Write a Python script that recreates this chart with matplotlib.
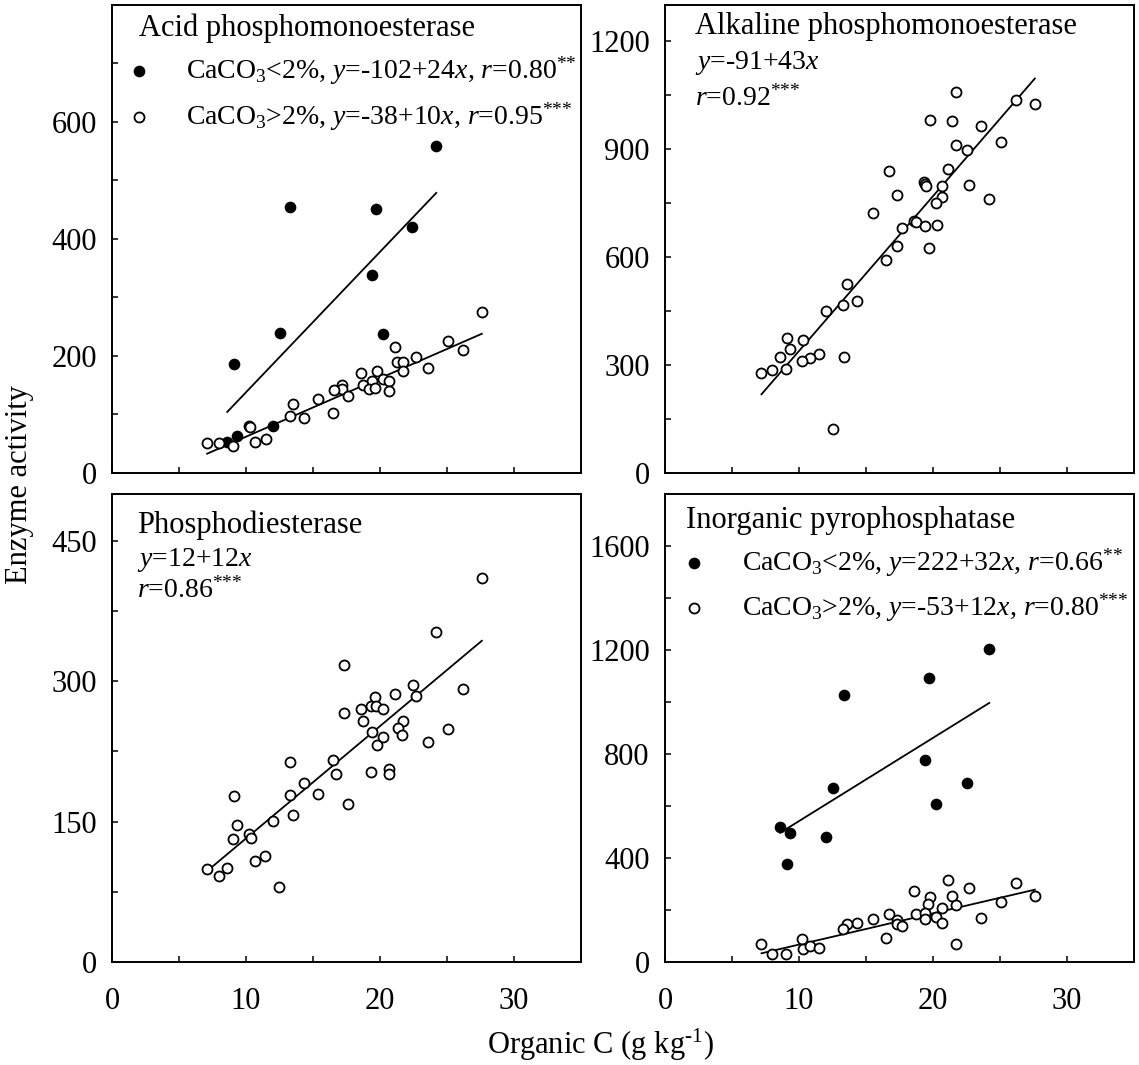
import matplotlib
matplotlib.use('Agg')
import matplotlib.pyplot as plt
import numpy as np
from matplotlib.ticker import FixedLocator

plt.rcParams['font.family'] = ['Liberation Serif', 'DejaVu Serif']
plt.rcParams['mathtext.fontset'] = 'custom'
plt.rcParams['mathtext.rm'] = 'Liberation Serif'
plt.rcParams['mathtext.it'] = 'Liberation Serif:italic'

# Acid phosphomonoesterase (filled: CaCO3<2%, open: CaCO3>2%)
acid_lo_x = [24.2, 13.3, 19.7, 22.4, 19.4, 12.5, 20.2, 9.1, 9.3, 12.0, 8.6]
acid_lo_y = [559, 454, 451, 421, 338, 240, 237, 187, 63, 80, 53]
acid_hi_x = [27.6, 25.1, 26.2, 21.1, 22.7, 21.3, 21.7, 23.6, 21.7, 18.6, 19.8, 19.4,
             20.2, 20.7, 18.7, 19.2, 19.6, 20.7, 17.2, 17.2, 16.6, 17.6, 15.4, 16.5,
             13.5, 13.3, 14.3, 10.2, 10.3, 11.5, 10.7, 9.05, 8.0, 7.1]
acid_hi_y = [276, 225, 210, 215, 199, 190, 189, 180, 174, 171, 174, 158,
             160, 158, 150, 143, 145, 141, 150, 143, 142, 131, 126, 102,
             118, 97, 94, 81, 79, 58, 53, 47, 51, 51]
acid_lo_fit = (-102, 24)
acid_hi_fit = (-38, 10)

# Alkaline phosphomonoesterase
alk_x = [21.75, 26.2, 27.6, 19.8, 21.4, 23.6, 25.1, 21.7, 22.5, 21.1, 16.7, 19.3,
         19.4, 19.5, 20.7, 22.7, 17.3, 20.7, 24.2, 20.2, 15.5, 18.6, 18.7, 19.4,
         20.3, 17.7, 17.3, 19.7, 16.5, 13.55, 14.3, 13.3, 12.0, 9.1, 10.3, 9.3,
         8.6, 11.5, 10.8, 10.2, 13.35, 9.0, 8.0, 7.2, 12.5]
alk_y = [1058, 1035, 1026, 980, 978, 963, 919, 912, 896, 844, 838, 808,
         804, 797, 798, 799, 771, 768, 760, 750, 722, 700, 696, 686,
         688, 680, 630, 625, 591, 524, 479, 466, 450, 374, 369, 344,
         323, 330, 320, 312, 322, 288, 285, 279, 121]
alk_fit = (-91, 43)

# Phosphodiesterase
pde_x = [27.6, 24.2, 17.3, 22.45, 26.2, 21.1, 19.6, 22.7, 19.35, 19.7, 20.2, 18.55,
         17.3, 18.75, 21.7, 21.35, 19.4, 25.1, 21.65, 20.2, 19.8, 23.6, 13.3, 16.5,
         16.7, 19.35, 20.65, 20.7, 14.3, 15.4, 13.3, 9.1, 17.6, 13.5, 12.0, 9.3,
         10.2, 10.35, 9.05, 11.45, 10.7, 7.1, 8.55, 7.95, 12.45]
pde_y = [410, 353, 317, 296, 292, 286, 283, 284, 274, 273, 270, 270,
         266, 258, 258, 250, 246, 249, 242, 240, 232, 235, 214, 216,
         201, 203, 206, 201, 191, 180, 178, 177, 169, 157, 151, 146,
         137, 132, 131, 113, 108, 99, 100, 92, 80]
pde_fit = (12, 12)

# Inorganic pyrophosphatase
ipp_lo_x = [24.2, 19.7, 13.35, 19.4, 22.5, 12.5, 20.2, 8.6, 9.3, 12.0, 9.1]
ipp_lo_y = [1203, 1094, 1027, 776, 687, 669, 606, 518, 497, 479, 376]
ipp_hi_x = [21.1, 26.2, 22.7, 18.6, 27.6, 19.8, 21.4, 25.1, 19.6, 21.7, 20.65, 16.7,
            18.75, 19.4, 20.25, 19.4, 23.6, 15.5, 17.3, 14.3, 20.7, 17.3, 17.7, 13.55,
            13.3, 16.5, 10.2, 10.3, 10.8, 11.5, 7.2, 21.75, 8.0, 9.0]
ipp_hi_y = [315, 305, 283, 274, 255, 251, 254, 229, 223, 218, 209, 183,
            185, 187, 174, 167, 171, 165, 160, 151, 150, 147, 138, 145,
            126, 92, 90, 51, 62, 53, 68, 69, 32, 32]
ipp_lo_fit = (222, 32)
ipp_hi_fit = (-53, 12)

TICK_FS = 22
TITLE_FS = 22
EQ_FS = 20
STARS2 = '$^{{*}{*}}$'
STARS3 = '$^{{*}{*}{*}}$'


def filled(ax, x, y, **kw):
    ax.plot(x, y, 'o', color='black', ms=8.4, mew=0, zorder=3, **kw)


def hollow(ax, x, y, **kw):
    ax.plot(x, y, 'o', mfc='white', mec='black', ms=7.2, mew=1.3, zorder=3, **kw)


def fit_line(ax, x, coef):
    xs = np.array([min(x), max(x)])
    ax.plot(xs, coef[0] + coef[1] * xs, color='black', lw=1.3, zorder=2)


def style(ax, ymax, ymajor, show_x):
    ax.set_xlim(0, 35)
    ax.set_ylim(0, ymax)
    ax.xaxis.set_major_locator(FixedLocator([0, 10, 20, 30]))
    ax.xaxis.set_minor_locator(FixedLocator([5, 15, 25]))
    ax.yaxis.set_major_locator(FixedLocator(np.arange(0, ymax, ymajor)))
    ax.yaxis.set_minor_locator(FixedLocator(np.arange(ymajor / 2, ymax, ymajor)))
    ax.tick_params(which='both', direction='in', length=4, width=1.1,
                   top=False, right=False, labelsize=TICK_FS)
    ax.tick_params(axis='y', pad=11)
    ax.tick_params(axis='x', pad=18, labelbottom=show_x)
    for s in ax.spines.values():
        s.set_linewidth(1.4)


def legend_rows(ax, x_key, x_txt, ys, labels):
    filled(ax, [x_key], [ys[0]], transform=ax.transAxes, clip_on=False)
    hollow(ax, [x_key], [ys[1]], transform=ax.transAxes, clip_on=False)
    for yy, lab in zip(ys, labels):
        ax.text(x_txt, yy, lab, transform=ax.transAxes, fontsize=EQ_FS,
                va='center', ha='left')


fig = plt.figure(figsize=(11.39, 10.65), dpi=100)
W, H = 469 / 1139, 468 / 1065
ax1 = fig.add_axes([112 / 1139, 1 - 473 / 1065, W, H])
ax2 = fig.add_axes([665 / 1139, 1 - 473 / 1065, W, H])
ax3 = fig.add_axes([112 / 1139, 1 - 962 / 1065, W, H])
ax4 = fig.add_axes([665 / 1139, 1 - 962 / 1065, W, H])

# Acid phosphomonoesterase
fit_line(ax1, acid_lo_x, acid_lo_fit)
fit_line(ax1, acid_hi_x, acid_hi_fit)
filled(ax1, acid_lo_x, acid_lo_y)
hollow(ax1, acid_hi_x, acid_hi_y)
style(ax1, 800, 200, False)
ax1.text(0.058, 0.951, 'Acid phosphomonoesterase', transform=ax1.transAxes,
         fontsize=TITLE_FS, va='center')
legend_rows(ax1, 0.058, 0.158, [0.859, 0.761],
            ['CaCO$_3$<2%, $y$=-102+24$x$, $r$=0.80' + STARS2,
             'CaCO$_3$>2%, $y$=-38+10$x$, $r$=0.95' + STARS3])

# Alkaline phosphomonoesterase
fit_line(ax2, alk_x, alk_fit)
hollow(ax2, alk_x, alk_y)
style(ax2, 1300, 300, False)
ax2.text(0.064, 0.953, 'Alkaline phosphomonoesterase', transform=ax2.transAxes,
         fontsize=TITLE_FS, va='center')
ax2.text(0.064, 0.876, '$y$=-91+43$x$', transform=ax2.transAxes,
         fontsize=EQ_FS, va='center')
ax2.text(0.064, 0.801, '$r$=0.92' + STARS3, transform=ax2.transAxes,
         fontsize=EQ_FS, va='center')

# Phosphodiesterase
fit_line(ax3, pde_x, pde_fit)
hollow(ax3, pde_x, pde_y)
style(ax3, 500, 150, True)
ax3.text(0.053, 0.934, 'Phosphodiesterase', transform=ax3.transAxes,
         fontsize=TITLE_FS, va='center')
ax3.text(0.053, 0.859, '$y$=12+12$x$', transform=ax3.transAxes,
         fontsize=EQ_FS, va='center')
ax3.text(0.053, 0.795, '$r$=0.86' + STARS3, transform=ax3.transAxes,
         fontsize=EQ_FS, va='center')

# Inorganic pyrophosphatase
fit_line(ax4, ipp_lo_x, ipp_lo_fit)
fit_line(ax4, ipp_hi_x, ipp_hi_fit)
filled(ax4, ipp_lo_x, ipp_lo_y)
hollow(ax4, ipp_hi_x, ipp_hi_y)
style(ax4, 1800, 400, True)
ax4.text(0.045, 0.944, 'Inorganic pyrophosphatase', transform=ax4.transAxes,
         fontsize=TITLE_FS, va='center')
legend_rows(ax4, 0.062, 0.165, [0.853, 0.756],
            ['CaCO$_3$<2%, $y$=222+32$x$, $r$=0.66' + STARS2,
             'CaCO$_3$>2%, $y$=-53+12$x$, $r$=0.80' + STARS3])

fig.text(20 / 1139, 1 - 485 / 1065, 'Enzyme activity', rotation=90,
         fontsize=TITLE_FS, ha='center', va='center')
fig.text(600 / 1139, 1 - 1045 / 1065, 'Organic C (g kg$^{\\text{-1}}$)',
         fontsize=TITLE_FS, ha='center', va='center')

fig.savefig('out.png', dpi=100)
